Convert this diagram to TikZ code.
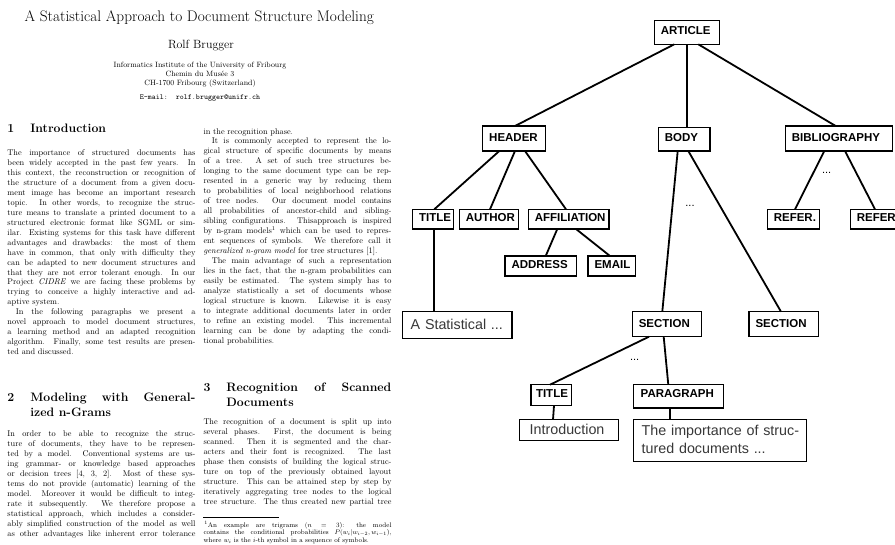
\documentclass[tikz,border=0pt]{standalone}
\usepackage{graphicx}
\usepackage{fontspec}
\newfontfamily\tagsans{Liberation Sans}

% column geometry of the printed page (10pt text, shown at 0.83)
\newlength\colw
\setlength\colw{226.5pt}
\newcommand\pagescale{0.83}

\newcommand\linesetup{\tolerance=10000 \pretolerance=-1 \hyphenpenalty=10000 \exhyphenpenalty=10000 }

\newcommand\coltext[1]{\scalebox{\pagescale}{\parbox[t]{\colw}{\fontsize{10}{12}\selectfont\linesetup\parindent=1em\parskip=0pt #1}}}

\newcommand\sechead[2]{\scalebox{0.85}{\parbox[t]{221pt}{\Large\bfseries\linesetup
  \setbox0=\hbox{#1\hspace{1.3em}}\hangindent=\wd0 \hangafter=1 \noindent\box0 #2}}}

\newcommand\footblock[1]{\scalebox{\pagescale}{\parbox[t]{\colw}{\footnotesize\linesetup #1}}}

\begin{document}
\begin{tikzpicture}[x=1pt, y=-1pt,
  pagetxt/.style={inner sep=0pt, anchor=base west},
  pagectr/.style={inner sep=0pt, anchor=base},
  tag/.style={draw, line width=1.3pt, outer sep=0pt, inner ysep=0pt, inner xsep=6.5pt,
    anchor=north west, align=left, font=\tagsans\bfseries\fontsize{11.5}{13}\selectfont},
  leaf/.style={draw, line width=1.3pt, outer sep=0pt, inner ysep=0pt,
    anchor=north west, align=left, text=black!78, font=\tagsans\fontsize{14.3}{17.3}\selectfont},
  conn/.style={line width=1.8pt},
  gap/.style={inner sep=0pt, anchor=base, font=\tagsans\fontsize{11}{13}\selectfont}]

\useasboundingbox (0,0) rectangle (895,544);
\fill[white] (0,0) rectangle (895,544);
\clip (0,0) rectangle (895,544);

% ---------------- printed page ----------------
\node[pagectr] (ptitle) at (199.3,21) {\scalebox{0.886}{\LARGE A Statistical Approach to Document Structure Modeling}};
\node[pagectr] (pauthor) at (201,48) {\scalebox{\pagescale}{\Large Rolf Brugger}};
\node[pagectr] (paff1) at (200,67) {\scalebox{0.85}{\small Informatics Institute of the University of Fribourg}};
\node[pagectr] (paff2) at (200,76.3) {\scalebox{0.85}{\small Chemin du Musée 3}};
\node[pagectr] (paff3) at (200,85.7) {\scalebox{0.85}{\small CH-1700 Fribourg (Switzerland)}};
\node[pagectr] (pmail) at (200,99) {\scalebox{0.85}{\small\ttfamily E-mail:\ \ rolf.brugger@unifr.ch}};

\node[pagetxt] (h1) at (7.3,132.5) {\sechead{1}{Introduction}};
\node[pagetxt] (p1) at (7.3,155.5) {\coltext{\noindent
The importance of structured documents has\linebreak
been widely accepted in the past few years. In\linebreak
this context, the reconstruction or recognition of\linebreak
the structure of a document from a given docu-\linebreak
ment image has become an important research\linebreak
topic. In other words, to recognize the struc-\linebreak
ture means to translate a printed document to a\linebreak
structured electronic format like SGML or sim-\linebreak
ilar. Existing systems for this task have different\linebreak
advantages and drawbacks: the most of them\linebreak
have in common, that only with difficulty they\linebreak
can be adapted to new document structures and\linebreak
that they are not error tolerant enough. In our\linebreak
Project \textit{CIDRE} we are facing these problems by\linebreak
trying to conceive a highly interactive and ad-\linebreak
aptive system.\par
In the following paragraphs we present a\linebreak
novel approach to model document structures,\linebreak
a learning method and an adapted recognition\linebreak
algorithm. Finally, some test results are presen-\linebreak
ted and discussed.}};

\node[pagetxt] (h2) at (7.3,401) {\sechead{2}{Modeling with General-\linebreak ized n-Grams}};
\node[pagetxt] (p2) at (7.3,436.5) {\coltext{\noindent
In order to be able to recognize the struc-\linebreak
ture of documents, they have to be represen-\linebreak
ted by a model. Conventional systems are us-\linebreak
ing grammar- or knowledge based approaches\linebreak
or decision trees [4, 3, 2]. Most of these sys-\linebreak
tems do not provide (automatic) learning of the\linebreak
model. Moreover it would be difficult to integ-\linebreak
rate it subsequently. We therefore propose a\linebreak
statistical approach, which includes a consider-\linebreak
ably simplified construction of the model as well\linebreak
as other advantages like inherent error tolerance\linebreak}};

\node[pagetxt] (p3) at (203.3,134) {\coltext{\noindent
in the recognition phase.\par
It is commonly accepted to represent the lo-\linebreak
gical structure of specific documents by means\linebreak
of a tree. A set of such tree structures be-\linebreak
longing to the same document type can be rep-\linebreak
resented in a generic way by reducing them\linebreak
to probabilities of local neighborhood relations\linebreak
of tree nodes. Our document model contains\linebreak
all probabilities of ancestor-child and sibling-\linebreak
sibling configurations. Thisapproach is inspired\linebreak
by n-gram models\textsuperscript{1} which can be used to repres-\linebreak
ent sequences of symbols. We therefore call it\linebreak
\textit{generalized n-gram model} for tree structures [1].\par
The main advantage of such a representation\linebreak
lies in the fact, that the n-gram probabilities can\linebreak
easily be estimated. The system simply has to\linebreak
analyze statistically a set of documents whose\linebreak
logical structure is known. Likewise it is easy\linebreak
to integrate additional documents later in order\linebreak
to refine an existing model. This incremental\linebreak
learning can be done by adapting the condi-\linebreak
tional probabilities.}};

\node[pagetxt] (h3) at (203.3,391) {\sechead{3}{Recognition of Scanned\linebreak Documents}};
\node[pagetxt] (p4) at (203.3,424.7) {\coltext{\noindent
The recognition of a document is split up into\linebreak
several phases. First, the document is being\linebreak
scanned. Then it is segmented and the char-\linebreak
acters and their font is recognized. The last\linebreak
phase then consists of building the logical struc-\linebreak
ture on top of the previously obtained layout\linebreak
structure. This can be attained step by step by\linebreak
iteratively aggregating tree nodes to the logical\linebreak
tree structure. The thus created new partial tree\linebreak}};

% footnote rule and footnote
\draw[line width=0.35pt] (203.3,516.7) -- (278.5,516.7);
\node[pagetxt] (fn) at (203.3,527) {\footblock{\noindent\hspace*{1pt}\textsuperscript{1}An example are trigrams ($n = 3$): the model\linebreak
contains the conditional probabilities $P(w_i|w_{i-2}, w_{i-1})$,\linebreak
where $w_i$ is the $i$-th symbol in a sequence of symbols.}};

% ---------------- logical structure tree ----------------
\node[tag, text width=52pt,   text height=14.2pt, text depth=9.4pt] (article) at (654.3,20.7) {ARTICLE};
\node[tag, text width=49.6pt, text height=15.5pt, text depth=9.5pt] (header)  at (482.7,126) {HEADER};
\node[tag, text width=38.7pt, text height=13.8pt, text depth=9.5pt] (body)    at (658.3,127.7) {BODY};
\node[tag, text width=94pt,   text height=15.5pt, text depth=9.5pt] (biblio)  at (785.3,126) {BIBLIOGRAPHY};

\node[tag, text width=27.6pt, text height=12.6pt, text depth=7.1pt] (title)  at (412.7,209.3) {TITLE};
\node[tag, text width=46pt,   text height=12.6pt, text depth=7.1pt] (author) at (459.3,209.3) {AUTHOR};
\node[tag, text width=67.7pt, text height=12.6pt, text depth=7.1pt] (affil)  at (528.3,209.3) {AFFILIATION};
\node[tag, text width=58.7pt, text height=12.9pt, text depth=7.1pt] (address) at (505,256) {ADDRESS};
\node[tag, text width=34.3pt, text height=12.9pt, text depth=7.1pt] (email)  at (588,256) {EMAIL};
\node[tag, text width=39.4pt, text height=12.6pt, text depth=7.1pt] (refa)   at (767.3,209.3) {REFER.};
\node[tag, text width=39.4pt, text height=12.6pt, text depth=7.1pt] (refb)   at (850.3,209.3) {REFER.};

\node[leaf, inner xsep=8.4pt, text width=92.9pt, text height=17.8pt, text depth=8.8pt] (astat) at (402.3,311.7) {A Statistical ...};
\node[tag, text width=56pt,   text height=15.8pt, text depth=9.2pt] (seca) at (632.3,311.7) {SECTION};
\node[tag, text width=56.3pt, text height=15.8pt, text depth=9.2pt] (secb) at (749,311.7) {SECTION};

\node[tag, inner xsep=5pt, text width=30.7pt, text height=12.8pt, text depth=8.2pt] (stitle) at (531,384.7) {TITLE};
\node[tag, inner xsep=7pt, text width=75.6pt, text height=12.8pt, text depth=10.5pt] (para) at (633.7,384.7) {PARAGRAPH};

\node[leaf, inner xsep=10pt, text width=78.6pt, text height=14.8pt, text depth=6.2pt] (intro) at (519.7,419.7) {Introduction};
\node[leaf, inner xsep=4.2pt, text width=165pt, text height=16.2pt, text depth=25.4pt] (imp) at (633.3,419.7)
  {\hspace*{4.2pt}The importance of struc-\\\hspace*{4.2pt}tured documents ...};

% omitted siblings
\node[gap] (gapa) at (826.7,173) {...};
\node[gap] (gapb) at (690,206) {...};
\node[gap] (gapc) at (634.7,360) {...};

% edges
\draw[conn] (674.3,0 |- article.south) -- (515,0 |- header.north);
\draw[conn] (687.3,0 |- article.south) -- (687.3,0 |- body.north);
\draw[conn] (698.3,0 |- article.south) -- (835.7,0 |- biblio.north);

\draw[conn] (499.3,0 |- header.south) -- (434.3,0 |- title.north);
\draw[conn] (515,0 |- header.south) -- (490,0 |- author.north);
\draw[conn] (525,0 |- header.south) -- (566,0 |- affil.north);
\draw[conn] (557.3,0 |- affil.south) -- (545.7,0 |- address.north);
\draw[conn] (576,0 |- affil.south) -- (610,0 |- email.north);

\draw[conn] (824.3,0 |- biblio.south) -- (795,0 |- refa.north);
\draw[conn] (845,0 |- biblio.south) -- (875,0 |- refb.north);

\draw[conn] (677.7,0 |- body.south) -- (662.3,0 |- seca.north);
\draw[conn] (688.3,0 |- body.south) -- (781,0 |- secb.north);

\draw[conn] (434.3,0 |- title.south) -- (434.3,0 |- astat.north);

\draw[conn] (649,0 |- seca.south) -- (550,0 |- stitle.north);
\draw[conn] (663.7,0 |- seca.south) -- (668.3,0 |- para.north);
\draw[conn] (554,0 |- stitle.south) -- (553,0 |- intro.north);
\draw[conn] (670,0 |- para.south) -- (670,0 |- imp.north);
\end{tikzpicture}
\end{document}
